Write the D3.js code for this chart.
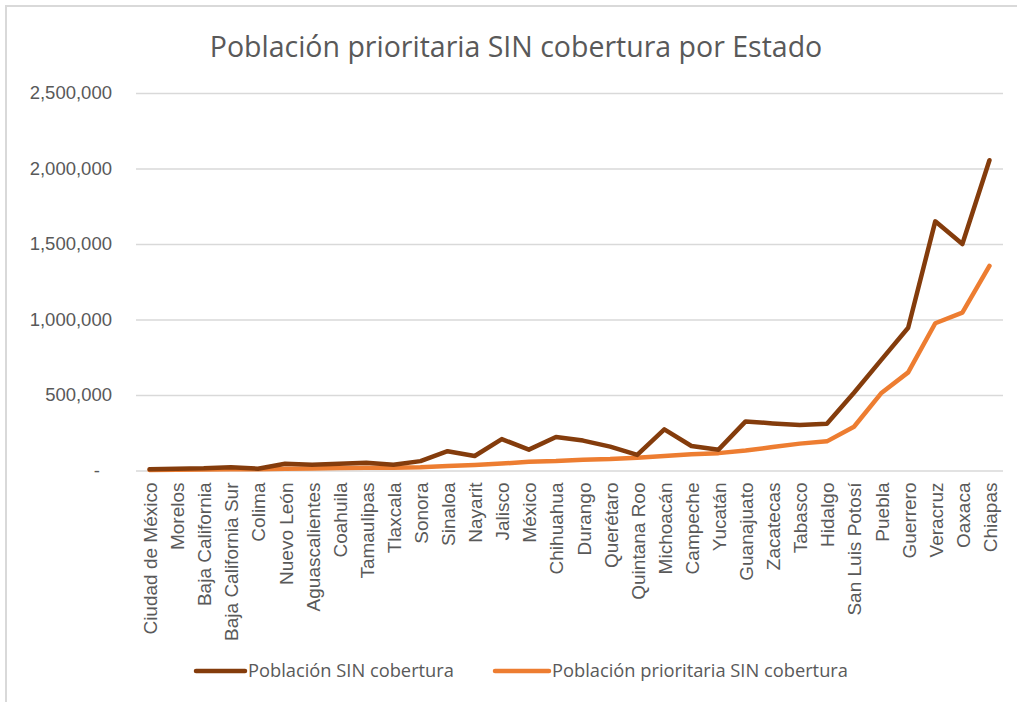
<!DOCTYPE html>
<html>
<head>
<meta charset="utf-8">
<script src="https://cdn.jsdelivr.net/npm/d3@7"></script>
<style>
  html, body { margin: 0; padding: 0; background: #fff; }
  svg { display: block; font-family: "Open Sans", "Noto Sans", sans-serif; }
</style>
</head>
<body>
<div id="chart"></div>
<script>
// states, ordered as in the chart
const estados = [
  "Ciudad de México", "Morelos", "Baja California", "Baja California Sur", "Colima",
  "Nuevo León", "Aguascalientes", "Coahuila", "Tamaulipas", "Tlaxcala", "Sonora",
  "Sinaloa", "Nayarit", "Jalisco", "México", "Chihuahua", "Durango", "Querétaro",
  "Quintana Roo", "Michoacán", "Campeche", "Yucatán", "Guanajuato", "Zacatecas",
  "Tabasco", "Hidalgo", "San Luis Potosí", "Puebla", "Guerrero", "Veracruz",
  "Oaxaca", "Chiapas"
];

// Población SIN cobertura
const sinCobertura = [
  8000, 12000, 15000, 22000, 12000, 45000, 38000, 45000, 52000, 38000, 62000,
  128000, 96000, 208000, 138000, 222000, 198000, 158000, 103000, 272000, 162000,
  138000, 325000, 312000, 302000, 310000, 515000, 731000, 945000, 1650000,
  1500000, 2055000
];

// Población prioritaria SIN cobertura
const prioritariaSinCobertura = [
  3000, 5000, 7000, 8000, 8000, 12000, 13000, 16000, 18000, 18000, 22000,
  30000, 37000, 46000, 58000, 63000, 72000, 76000, 85000, 96000, 108000,
  115000, 132000, 155000, 178000, 193000, 290000, 511000, 650000, 975000,
  1045000, 1355000
];

const yTicks = [0, 500000, 1000000, 1500000, 2000000, 2500000];

const series = [
  { name: "Población SIN cobertura", values: sinCobertura, color: "#843c0c" },
  { name: "Población prioritaria SIN cobertura", values: prioritariaSinCobertura, color: "#ed7d31" }
];

const width = 1017;
const height = 702;
const plot = { left: 136, right: 1003, top: 93, bottom: 470.5 };
const textColor = "#595959";

const svg = d3.select("#chart").append("svg")
  .attr("width", width)
  .attr("height", height);

// chart frame (only the top and left edges are inside the picture)
svg.append("path")
  .attr("d", `M6,${height} V6 H${width}`)
  .attr("fill", "none")
  .attr("stroke", "#d9d9d9")
  .attr("stroke-width", 2);

svg.append("text")
  .attr("x", 516)
  .attr("y", 57)
  .attr("text-anchor", "middle")
  .attr("fill", textColor)
  .style("font-size", "28.5px")
  .text("Población prioritaria SIN cobertura por Estado");

const x = d3.scalePoint()
  .domain(estados)
  .range([plot.left, plot.right])
  .padding(0.5);

const y = d3.scaleLinear()
  .domain([0, 2500000])
  .range([plot.bottom, plot.top]);

// gridlines + y labels
const yAxis = d3.axisLeft(y)
  .tickValues(yTicks)
  .tickSize(-(plot.right - plot.left))
  .tickPadding(24)
  .tickFormat(d => d === 0 ? "-" : d3.format(",")(d));

const gy = svg.append("g")
  .attr("transform", `translate(${plot.left},0)`)
  .call(yAxis);
gy.select(".domain").remove();
gy.selectAll(".tick line").attr("stroke", "#d9d9d9").attr("stroke-width", 1.5);
gy.selectAll(".tick text")
  .attr("fill", textColor)
  .style("font-size", "18.5px")
  .attr("dx", d => d === 0 ? -12 : 0);

// category labels, rotated
const xAxis = d3.axisBottom(x).tickSize(0).tickPadding(0);
const gx = svg.append("g")
  .attr("transform", `translate(0,${plot.bottom})`)
  .call(xAxis);
gx.select(".domain").remove();
gx.selectAll(".tick text")
  .attr("fill", textColor)
  .style("font-size", "19px")
  .attr("text-anchor", "end")
  .attr("dy", null)
  .attr("transform", "translate(7,12) rotate(-90)");

const line = d3.line()
  .x((d, i) => x(estados[i]))
  .y(d => y(d));

svg.append("g")
  .selectAll("path")
  .data(series.slice().reverse())
  .join("path")
  .attr("d", d => line(d.values))
  .attr("fill", "none")
  .attr("stroke", d => d.color)
  .attr("stroke-width", 4.5)
  .attr("stroke-linejoin", "round")
  .attr("stroke-linecap", "round");

// legend
const legendPos = [{ x1: 196, x2: 245 }, { x1: 495, x2: 549 }];
const legend = svg.append("g")
  .selectAll("g")
  .data(series)
  .join("g")
  .attr("transform", (d, i) => `translate(${legendPos[i].x1},671)`);

legend.append("line")
  .attr("x1", 0)
  .attr("x2", (d, i) => legendPos[i].x2 - legendPos[i].x1)
  .attr("stroke", d => d.color)
  .attr("stroke-width", 4.5)
  .attr("stroke-linecap", "round");

legend.append("text")
  .attr("x", (d, i) => legendPos[i].x2 - legendPos[i].x1 + 3)
  .attr("dy", "0.35em")
  .attr("fill", textColor)
  .style("font-size", "18.3px")
  .text(d => d.name);
</script>
</body>
</html>
